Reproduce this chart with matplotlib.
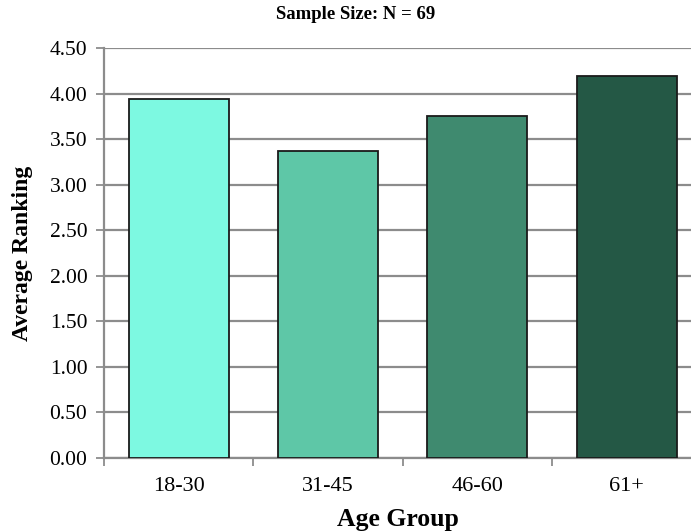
import numpy as np
import matplotlib
matplotlib.use('Agg')
import matplotlib.pyplot as plt

groups = ['18-30', '31-45', '46-60', '61+']
avg_rank = [3.94, 3.37, 3.75, 4.19]
colors = ['#7df9e1', '#5ec7a7', '#3f8a6f', '#245845']
yticks = [0.0, 0.5, 1.0, 1.5, 2.0, 2.5, 3.0, 3.5, 4.0, 4.5]

plt.rcParams['font.family'] = ['Liberation Serif', 'DejaVu Serif']


def main():
    fig = plt.figure(figsize=(6.91, 5.31), dpi=100)
    ax = fig.add_axes([0.1505, 0.1375, 0.8495, 0.7721])

    x = np.arange(len(groups))
    ax.bar(x, avg_rank, width=0.67, color=colors, edgecolor='#1a1a1a',
           linewidth=1.3, zorder=3)

    ax.set_yticks(yticks)
    ax.set_yticklabels(['%.2f' % v for v in yticks], fontsize=15.5)
    ax.yaxis.grid(True, color='#8c8c8c', lw=1.6, zorder=0)

    # category labels centred, tick marks on the boundaries
    ax.set_xticks(x)
    ax.set_xticklabels(groups, fontsize=16)
    ax.tick_params(axis='x', length=0, pad=14)
    ax.set_xticks(np.arange(-0.5, 3, 1), minor=True)
    ax.tick_params(axis='x', which='minor', length=6, width=1.3, color='#8c8c8c')
    ax.tick_params(axis='y', length=6, width=1.3, color='#8c8c8c', pad=6)

    # right edge is cut off, like the original picture
    ax.set_xlim(-0.5, 3.43)
    ax.set_ylim(0, 4.5)

    for s in ['top', 'right']:
        ax.spines[s].set_visible(False)
    for s in ['left', 'bottom']:
        ax.spines[s].set_color('#8c8c8c')
        ax.spines[s].set_linewidth(1.6)

    ax.set_xlabel('Age Group', fontsize=18.5, fontweight='bold', labelpad=8)
    ax.set_ylabel('Average Ranking', fontsize=17, fontweight='bold', labelpad=12)
    fig.text(0.514, 0.972, 'Sample Size: N = 69', ha='center', va='center',
             fontsize=13.5, fontweight='bold')

    fig.savefig('out.png', dpi=100)


if __name__ == '__main__':
    main()
